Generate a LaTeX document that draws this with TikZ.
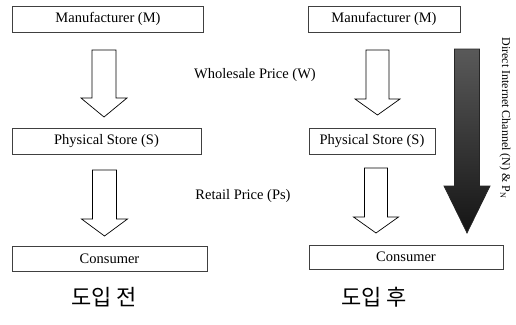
\documentclass[tikz,border=0pt]{standalone}
\usepackage{fontspec}
\setmainfont{Liberation Serif}
\newfontfamily\kofont{Noto Sans CJK KR}
\usepackage{tikz}
\usetikzlibrary{calc,positioning}

% block arrow: [opts]{top}{tip}{half shaft}{half head}{head length}
\newcommand{\blockarrow}[6][]{%
    \draw[#1] ($(#2)+(-#4,0)$) -- ($(#3)+(-#4,-#6)$) -- ($(#3)+(-#5,-#6)$) -- (#3)
        -- ($(#3)+(#5,-#6)$) -- ($(#3)+(#4,-#6)$) -- ($(#2)+(#4,0)$) -- cycle;
}

\begin{document}
\begin{tikzpicture}[x=1pt,y=-1pt,
    box/.style={draw=black!75,line width=0.7pt,rectangle,inner sep=0pt,font=\fontsize{14.5}{16}\selectfont},
    plain/.style={draw=black,line width=0.7pt,fill=white},
    dark/.style={draw=black!85,line width=0.7pt,top color=black!65,bottom color=black!92},
    lbl/.style={font=\fontsize{14.5}{16}\selectfont},
    stage/.style={font=\kofont\fontsize{22}{24}\selectfont}]
    \useasboundingbox (0,0) rectangle (516,324);

    % before
    \node[box,minimum width=191pt,minimum height=26pt] (lm) at (108,19) {Manufacturer (M)};
    \node[box,minimum width=189pt,minimum height=26pt] (ls) at (106.5,141) {Physical Store (S)};
    \node[box,minimum width=195pt,minimum height=25pt] (lc) at (109.5,258.5) {Consumer};

    \coordinate (la1) at (104,50);
    \coordinate (lb1) at (104,117);
    \coordinate (la2) at (104.5,170);
    \coordinate (lb2) at (104.5,236);
    \blockarrow[plain]{la1}{lb1}{12}{23}{19}
    \blockarrow[plain]{la2}{lb2}{12}{23}{17}

    \node[lbl] (wp) at (255,75) {Wholesale Price (W)};
    \node[lbl] (rp) at (243,196) {Retail Price (Ps)};

    \node[stage] (before) at (104,297) {도입 전};

    % after
    \node[box,minimum width=152pt,minimum height=26pt] (rm) at (384,19) {Manufacturer (M)};
    \node[box,minimum width=126pt,minimum height=26pt] (rs) at (372,141) {Physical Store (S)};
    \node[box,minimum width=194pt,minimum height=24pt] (rc) at (406,257) {Consumer};

    \coordinate (ra1) at (377.5,50);
    \coordinate (rb1) at (377.5,115);
    \coordinate (ra2) at (376,168);
    \coordinate (rb2) at (376,233);
    \blockarrow[plain]{ra1}{rb1}{11.5}{22.5}{16}
    \blockarrow[plain]{ra2}{rb2}{11.5}{22.5}{16}

    \coordinate (na) at (467,49);
    \coordinate (nb) at (467,233);
    \blockarrow[dark]{na}{nb}{12.5}{23}{47}

    \node[lbl,font=\fontsize{12}{14}\selectfont,rotate=-90] (direct) at (505,118) {Direct Internet Channel (N) \& P\textsubscript{N}};

    \node[stage] (after) at (374,297) {도입 후};
\end{tikzpicture}
\end{document}
